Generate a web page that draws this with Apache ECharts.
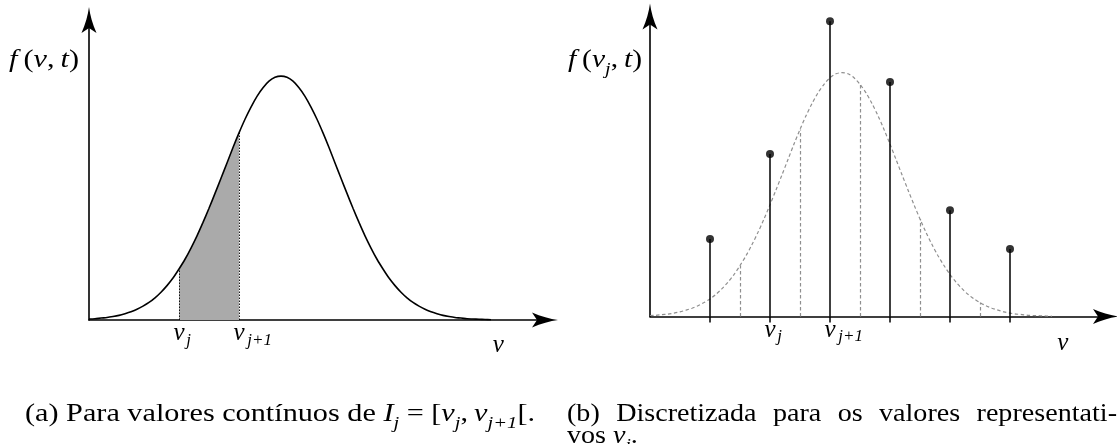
<!DOCTYPE html>
<html>
<head>
<meta charset="utf-8">
<script src="https://cdn.jsdelivr.net/npm/echarts@6/dist/echarts.min.js"></script>
<style>
  html, body { margin: 0; padding: 0; background: #fff; }
  #chart { width: 1117px; height: 444px; }
</style>
</head>
<body>
<div id="chart"></div>
<script>
// Density f(v,t): sampled velocities and values
const curveV = [0.0, 0.1, 0.2, 0.3, 0.4, 0.5, 0.6, 0.7, 0.8, 0.9,
                1.0, 1.1, 1.2, 1.3, 1.4, 1.5, 1.6, 1.7, 1.8, 1.9,
                2.0, 2.1, 2.2, 2.3, 2.4, 2.5, 2.6, 2.7, 2.8, 2.9,
                3.0, 3.1, 3.2, 3.3, 3.4, 3.5, 3.6, 3.7, 3.8, 3.9,
                4.0, 4.1, 4.2, 4.3, 4.4, 4.5, 4.6, 4.7, 4.8, 4.9,
                5.0, 5.1, 5.2, 5.3, 5.4, 5.5, 5.6, 5.7, 5.8, 5.9,
                6.0, 6.1, 6.2, 6.3, 6.4, 6.5, 6.6, 6.7];
const curveF = [0.004, 0.005, 0.008, 0.010, 0.014, 0.019, 0.026, 0.034, 0.044, 0.057,
                0.072, 0.091, 0.114, 0.141, 0.172, 0.209, 0.249, 0.295, 0.345, 0.400,
                0.458, 0.519, 0.581, 0.644, 0.707, 0.767, 0.823, 0.873, 0.917, 0.952,
                0.979, 0.995, 1.000, 0.995, 0.979, 0.952, 0.917, 0.873, 0.823, 0.767,
                0.707, 0.644, 0.581, 0.519, 0.458, 0.400, 0.345, 0.295, 0.249, 0.209,
                0.172, 0.141, 0.114, 0.091, 0.072, 0.057, 0.044, 0.034, 0.026, 0.019,
                0.014, 0.010, 0.008, 0.005, 0.004, 0.003, 0.002, 0.001];

// Interval I_j = [v_j, v_{j+1}[ shaded in panel (a)
const intervalA = [1.5, 2.5];

// Representative velocities v_j and their discrete values, panel (b)
const stemV = [1, 2, 3, 4, 5, 6];
const stemF = [0.318, 0.666, 1.211, 0.961, 0.436, 0.277];

// Interval boundaries drawn under the dashed density in panel (b)
const boundsB = [1.5, 2.5, 3.5, 4.5, 5.5];

// Axis label positions and texts
const labelPosA = [1.5, 2.5, 6.82];
const labelPosB = [2, 3, 6.88];
const labelTextA = ['{sp1|}{v|v}{s1|j}', '{sp2|}{v|v}{s2|j+1}', '{lo|v}'];
const labelTextB = ['{sp1|}{v|v}{s1|j}', '{sp2|}{v|v}{s2|j+1}', '{lo2|v}'];

// Axis names and captions
const nameA = '{i|f}{n|\u2009(}{i|v}{n|,\u2009}{i|t}{n|)}';
const nameB = '{i|f}{n|\u2009(}{i|v}{s|j}{n|,\u2009}{i|t}{n|)}';
const captionA = '{n|(a) Para valores contínuos de }{i|I}{s|j}{n| = [}{i|v}{s|j}{n|,\u2009}{i|v}{s|j+1}{n|[.}';
const captionBWords = ['(b)', 'Discretizada', 'para', 'os', 'valores', 'representati-'];
const captionBLine2 = '{n|vos }{i|v}{s|j}{n|.}';

const SERIF = '"Liberation Serif", "DejaVu Serif", serif';
const X_MAX = 7.6, Y_MAX = 1.23;

function fAt(v) {
  let k = 0;
  for (let i = 1; i < curveV.length; i++) {
    if (Math.abs(curveV[i] - v) < Math.abs(curveV[k] - v)) k = i;
  }
  return curveF[k];
}
const curvePts = curveV.map((v, i) => [v, curveF[i]]);
const shadePts = curvePts.filter(p => p[0] >= intervalA[0] - 1e-9 && p[0] <= intervalA[1] + 1e-9);

// LaTeX-like stealth arrow head (points up before rotation)
const ARROW = 'path://M7.5,0 C8.6,8 11,17 15,26 L7.5,21 L0,26 C4,17 6.4,8 7.5,0 Z';

const LS = 25, SS = 17;
const tok = (extra) => Object.assign({ fontFamily: SERIF, color: '#000', fill: '#000', verticalAlign: 'top' }, extra);
const richLabel = {
  v:   tok({ fontStyle: 'italic', fontSize: LS, lineHeight: 24 }),
  lo:  tok({ fontStyle: 'italic', fontSize: LS, lineHeight: 24, padding: [12, 0, 0, 0] }),
  lo2: tok({ fontStyle: 'italic', fontSize: LS, lineHeight: 24, padding: [13, 0, 0, 0] }),
  s1:  tok({ fontStyle: 'italic', fontSize: SS, lineHeight: 17, padding: [11, 0, 0, 0], width: 8, align: 'left' }),
  s2:  tok({ fontStyle: 'italic', fontSize: SS, lineHeight: 17, padding: [11, 0, 0, 0], width: 30, align: 'left' }),
  sp1: tok({ width: 8, fontSize: SS, lineHeight: 17 }),
  sp2: tok({ width: 30, fontSize: SS, lineHeight: 17 })
};
const CS = 25;
const richText = {
  n: tok({ fontSize: CS, lineHeight: 28 }),
  i: tok({ fontStyle: 'italic', fontSize: CS, lineHeight: 28 }),
  s: tok({ fontStyle: 'italic', fontSize: SS, lineHeight: 17, padding: [13, 0, 0, 0] })
};
const capFont = CS + 'px ' + SERIF;

function labelFormatter(positions, texts) {
  return function (value) {
    for (let i = 0; i < positions.length; i++) {
      if (Math.abs(positions[i] - value) < 1e-6) return texts[i];
    }
    return '';
  };
}

function xAxisFor(gridIndex, positions, texts, ticks) {
  return {
    gridIndex, type: 'value', min: 0, max: X_MAX,
    splitLine: { show: false },
    axisLine: { show: true, onZero: false, symbol: ['none', ARROW], symbolSize: [15, 26],
                lineStyle: { color: '#000', width: 1.6 } },
    axisTick: ticks ? { show: true, customValues: ticks, length: 6, lineStyle: { color: '#000', width: 1.5 } }
                    : { show: false },
    axisLabel: { show: true, customValues: positions, formatter: labelFormatter(positions, texts),
                 margin: 1, rich: richLabel, hideOverlap: false, showMinLabel: true, showMaxLabel: true }
  };
}
function yAxisFor(gridIndex) {
  return {
    gridIndex, type: 'value', min: 0, max: Y_MAX,
    splitLine: { show: false },
    axisLine: { show: true, onZero: false, symbol: ['none', ARROW], symbolSize: [15, 26],
                lineStyle: { color: '#000', width: 1.6 } },
    axisTick: { show: false },
    axisLabel: { show: false }
  };
}

const boundaryLines = (xs, style) => ({
  silent: true, symbol: ['none', 'none'], label: { show: false },
  lineStyle: style, emphasis: { disabled: true },
  data: xs.map(x => [{ coord: [x, 0] }, { coord: [x, fAt(x)] }])
});

const chart = echarts.init(document.getElementById('chart'), null, { renderer: 'canvas' });

chart.setOption({
  animation: false,
  backgroundColor: '#fff',
  grid: [
    { left: 89, top: 20, width: 456, height: 300, containLabel: false, outerBoundsMode: 'none' },
    { left: 650, top: 16.5, width: 456, height: 300, containLabel: false, outerBoundsMode: 'none' }
  ],
  xAxis: [ xAxisFor(0, labelPosA, labelTextA, null), xAxisFor(1, labelPosB, labelTextB, stemV) ],
  yAxis: [ yAxisFor(0), yAxisFor(1) ],
  series: [
    // (a) shaded probability mass over I_j
    { type: 'line', xAxisIndex: 0, yAxisIndex: 0, data: shadePts, smooth: 0.3, symbol: 'none',
      lineStyle: { width: 0 }, areaStyle: { color: '#aaaaaa', opacity: 1 }, z: 1, silent: true,
      markLine: boundaryLines(intervalA, { color: '#000', width: 0.9, type: [1.5, 1.5] }) },
    // (a) continuous density
    { type: 'line', xAxisIndex: 0, yAxisIndex: 0, data: curvePts, smooth: 0.3, symbol: 'none',
      lineStyle: { color: '#000', width: 1.6 }, z: 3, silent: true },
    // (b) dashed density with interval boundaries
    { type: 'line', xAxisIndex: 1, yAxisIndex: 1, data: curvePts, smooth: 0.3, symbol: 'none',
      lineStyle: { color: '#8f8f8f', width: 1.2, type: [3.5, 2.5] }, z: 2, silent: true,
      markLine: boundaryLines(boundsB, { color: '#8f8f8f', width: 1.2, type: [3.5, 2.5] }) },
    // (b) stems
    { type: 'bar', xAxisIndex: 1, yAxisIndex: 1, data: stemV.map((v, i) => [v, stemF[i]]),
      barWidth: 1.5, itemStyle: { color: '#000' }, z: 3, silent: true },
    // (b) stem heads
    { type: 'scatter', xAxisIndex: 1, yAxisIndex: 1, data: stemV.map((v, i) => [v, stemF[i]]),
      symbol: 'circle', symbolSize: 8, itemStyle: { color: '#000' }, z: 4, silent: true }
  ]
});

// Width of a (rich) text string as rendered
function naturalWidth(text, rich) {
  try {
    const t = new echarts.graphic.Text({ style: { text, rich, font: capFont } });
    const w = t.getBoundingRect().width;
    if (w > 0) return w;
  } catch (e) {}
  const ctx = document.createElement('canvas').getContext('2d');
  ctx.font = capFont;
  return ctx.measureText(text.replace(/\{\w+\|/g, '').replace(/\}/g, '')).width;
}
function textEl(text, x, y, sx, align) {
  return { type: 'text', x, y, scaleX: sx, silent: true,
    style: { text, rich: richText, font: capFont, fill: '#000',
             align: align || 'left', textAlign: align || 'left', verticalAlign: 'top', textVerticalAlign: 'top' } };
}

// Palatino-like width: stretch the serif text horizontally
const capSX = 510 / naturalWidth(captionA, richText);
const wordSX = capSX * 0.93;
const nameASX = 70 / naturalWidth(nameA, richText);
const nameBSX = 74 / naturalWidth(nameB, richText);

const axisXA = chart.convertToPixel({ xAxisIndex: 0 }, 0);
const axisXB = chart.convertToPixel({ xAxisIndex: 1 }, 0);

// caption (b), first line justified between its margins
const capBLeft = 567, capBRight = 1117;
const wordW = captionBWords.map(w => naturalWidth('{n|' + w + '}', richText) * wordSX);
const gap = (capBRight - capBLeft - wordW.reduce((a, b) => a + b, 0)) / (captionBWords.length - 1);
let cx = capBLeft;
const capBElems = captionBWords.map((w, i) => {
  const el = textEl('{n|' + w + '}', cx, 402, wordSX);
  cx += wordW[i] + gap;
  return el;
});

chart.setOption({
  graphic: [
    textEl(nameA, axisXA - 10, 48, nameASX, 'right'),
    textEl(nameB, axisXB - 8, 48, nameBSX, 'right'),
    textEl(captionA, 25, 402, capSX),
    ...capBElems,
    textEl(captionBLine2, capBLeft, 424, wordSX)
  ]
});
</script>
</body>
</html>
